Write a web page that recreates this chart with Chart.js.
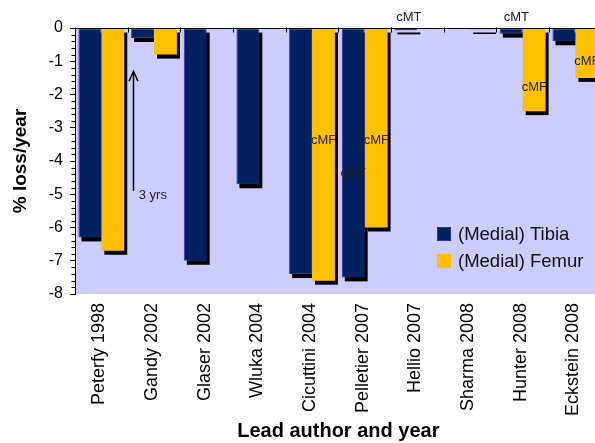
<!DOCTYPE html>
<html><head><meta charset="utf-8">
<script src="https://cdn.jsdelivr.net/npm/chart.js@4/dist/chart.umd.min.js"></script>
<style>
html,body{margin:0;padding:0;overflow:hidden;background:#fff;}
#wrap{width:606px;height:443px;position:relative;}
</style>
</head><body><div id="wrap"><canvas id="c"></canvas></div>
<script>
// ---- data ----
const categories = ['Peterfy 1998','Gandy 2002','Glaser 2002','Wluka 2004','Cicuttini 2004','Pelletier 2007','Hellio 2007','Sharma 2008','Hunter 2008','Eckstein 2008'];
const seriesNames = ['(Medial) Tibia','(Medial) Femur'];
const tibiaValues = [-6.3, -0.3, -7.0, -4.7, -7.4, -7.5, -0.07, null, -0.17, -0.4];
const femurValues = [-6.7, -0.8, null, null, -7.6, -6.0, null, -0.06, -2.5, -1.5];
const yMin = -8, yMax = 0, yStep = 1, yMinorStep = 0.2;
// text notes: category index (fractional), value
const barNotes = [
  {text:'cMF', cat:4.22, value:-3.38},
  {text:'cMF', cat:5.22, value:-3.38},
  {text:'cMT', cat:4.78, value:-4.38},
  {text:'cMF', cat:8.22, value:-1.79},
  {text:'cMF', cat:9.22, value:-1.01},
  {text:'cMT', cat:5.84, value:0.32},
  {text:'cMT', cat:7.88, value:0.32}
];
const arrowNote = {text:'3 yrs', cat:0.6, from:-4.9, to:-1.3, textCat:0.71, textValue:-5.05};

const FONT = "'Liberation Sans', Arial, sans-serif";
const NAVY = '#002060', GOLD = '#FFC000', BG = '#CCCCFF', EDGE = '#333399';

const deco = {
  id:'deco',
  beforeDraw(chart){
    const {ctx, chartArea:a} = chart;
    ctx.save();
    ctx.fillStyle = BG;
    ctx.fillRect(a.left, a.top, a.right-a.left, a.bottom-a.top);
    ctx.restore();
  },
  beforeDatasetsDraw(chart){
    const ctx = chart.ctx;
    ctx.save();
    ctx.fillStyle = '#000';
    chart.data.datasets.forEach((ds, di) => {
      const meta = chart.getDatasetMeta(di);
      meta.data.forEach((bar, i) => {
        if (ds.data[i] === null || ds.data[i] === undefined) return;
        const {x, y, base, width} = bar.getProps(['x','y','base','width'], true);
        const top = Math.min(y, base), h = Math.abs(base - y);
        ctx.fillRect(x - width/2 + 3, top + 4, width, h);
      });
    });
    ctx.restore();
  },
  afterDatasetsDraw(chart){
    const {ctx, chartArea:a, scales:{x,y}} = chart;
    ctx.save();
    const y0 = Math.round(y.getPixelForValue(0)) + 0.5;
    ctx.strokeStyle = '#000';
    ctx.lineWidth = 1;
    ctx.beginPath();
    ctx.moveTo(a.left, y0); ctx.lineTo(a.right, y0);
    for (let i = 0; i <= categories.length; i++) {
      const px = Math.round(x.getPixelForValue(i - 0.5)) + 0.5;
      ctx.moveTo(px, y0 - 1); ctx.lineTo(px, y0 + 4);
    }
    ctx.stroke();
    ctx.beginPath();
    const xl = Math.round(a.left) + 0.5;
    for (let v = yMax; v >= yMin - 1e-9; v -= yMinorStep) {
      const r = Math.round(v * 1000) / 1000;
      if (Math.abs(r - Math.round(r)) < 1e-6) continue;
      const py = Math.round(y.getPixelForValue(r)) + 0.5;
      ctx.moveTo(xl - 4, py); ctx.lineTo(xl, py);
    }
    ctx.stroke();
    ctx.restore();
  },
  afterDraw(chart){
    const {ctx, scales:{x,y}} = chart;
    ctx.save();
    ctx.fillStyle = '#222';
    ctx.font = '13px ' + FONT;
    ctx.textAlign = 'center';
    ctx.textBaseline = 'middle';
    barNotes.forEach(n => {
      ctx.fillText(n.text, x.getPixelForValue(n.cat), y.getPixelForValue(n.value));
    });
    const ax = Math.round(x.getPixelForValue(arrowNote.cat)) + 0.5;
    const yb = y.getPixelForValue(arrowNote.from), yt = y.getPixelForValue(arrowNote.to);
    ctx.strokeStyle = '#000';
    ctx.lineWidth = 1.5;
    ctx.beginPath();
    ctx.moveTo(ax, yb); ctx.lineTo(ax, yt);
    ctx.moveTo(ax - 4.5, yt + 10); ctx.lineTo(ax, yt); ctx.lineTo(ax + 4.5, yt + 10);
    ctx.stroke();
    ctx.textAlign = 'left';
    ctx.fillText(arrowNote.text, x.getPixelForValue(arrowNote.textCat), y.getPixelForValue(arrowNote.textValue));
    const items = chart.data.datasets;
    ctx.font = '18.5px ' + FONT;
    const lx = 437, ly = [227, 254];
    items.forEach((ds, i) => {
      ctx.fillStyle = ds.backgroundColor;
      ctx.fillRect(lx, ly[i], 14, 14);
      if (ds.borderWidth) {
        ctx.strokeStyle = ds.borderColor; ctx.lineWidth = 1;
        ctx.strokeRect(lx + 0.5, ly[i] + 0.5, 13, 13);
      }
      ctx.fillStyle = '#111';
      ctx.fillText(ds.label, lx + 21, ly[i] + 8);
    });
    ctx.restore();
  }
};

new Chart(document.getElementById('c'), {
  type:'bar',
  data:{
    labels: categories,
    datasets:[
      {label: seriesNames[0], data: tibiaValues, backgroundColor: NAVY, borderColor: EDGE, borderWidth:1, borderSkipped:false},
      {label: seriesNames[1], data: femurValues, backgroundColor: GOLD, borderWidth:0}
    ]
  },
  options:{
    responsive:true, maintainAspectRatio:false, animation:false,
    devicePixelRatio:1,
    layout:{padding:{top:28, right:1, left:0, bottom:0}},
    datasets:{bar:{categoryPercentage:0.87, barPercentage:1.0}},
    plugins:{legend:{display:false}, tooltip:{enabled:false}},
    scales:{
      x:{
        offset:true,
        grid:{display:false, drawTicks:false},
        border:{display:false},
        ticks:{autoSkip:false, maxRotation:90, minRotation:90, padding:9, labelOffset:-2, color:'#000', font:{family:FONT, size:18}},
        title:{display:true, text:'Lead author and year', color:'#000', font:{family:FONT, size:20, weight:'bold'}, padding:{top:0, bottom:0}},
        afterFit(s){ s.height = 149; }
      },
      y:{
        min:yMin, max:yMax,
        ticks:{stepSize:yStep, color:'#000', padding:7, font:{family:FONT, size:16}},
        grid:{drawOnChartArea:false, tickLength:5, color:'#000'},
        border:{display:true, color:'#000', width:1},
        title:{display:true, text:'% loss/year', color:'#000', font:{family:FONT, size:19, weight:'bold'}, padding:{top:9,bottom:0}},
        afterFit(s){ s.width = 75; }
      }
    }
  },
  plugins:[deco]
});
</script>
</body></html>
